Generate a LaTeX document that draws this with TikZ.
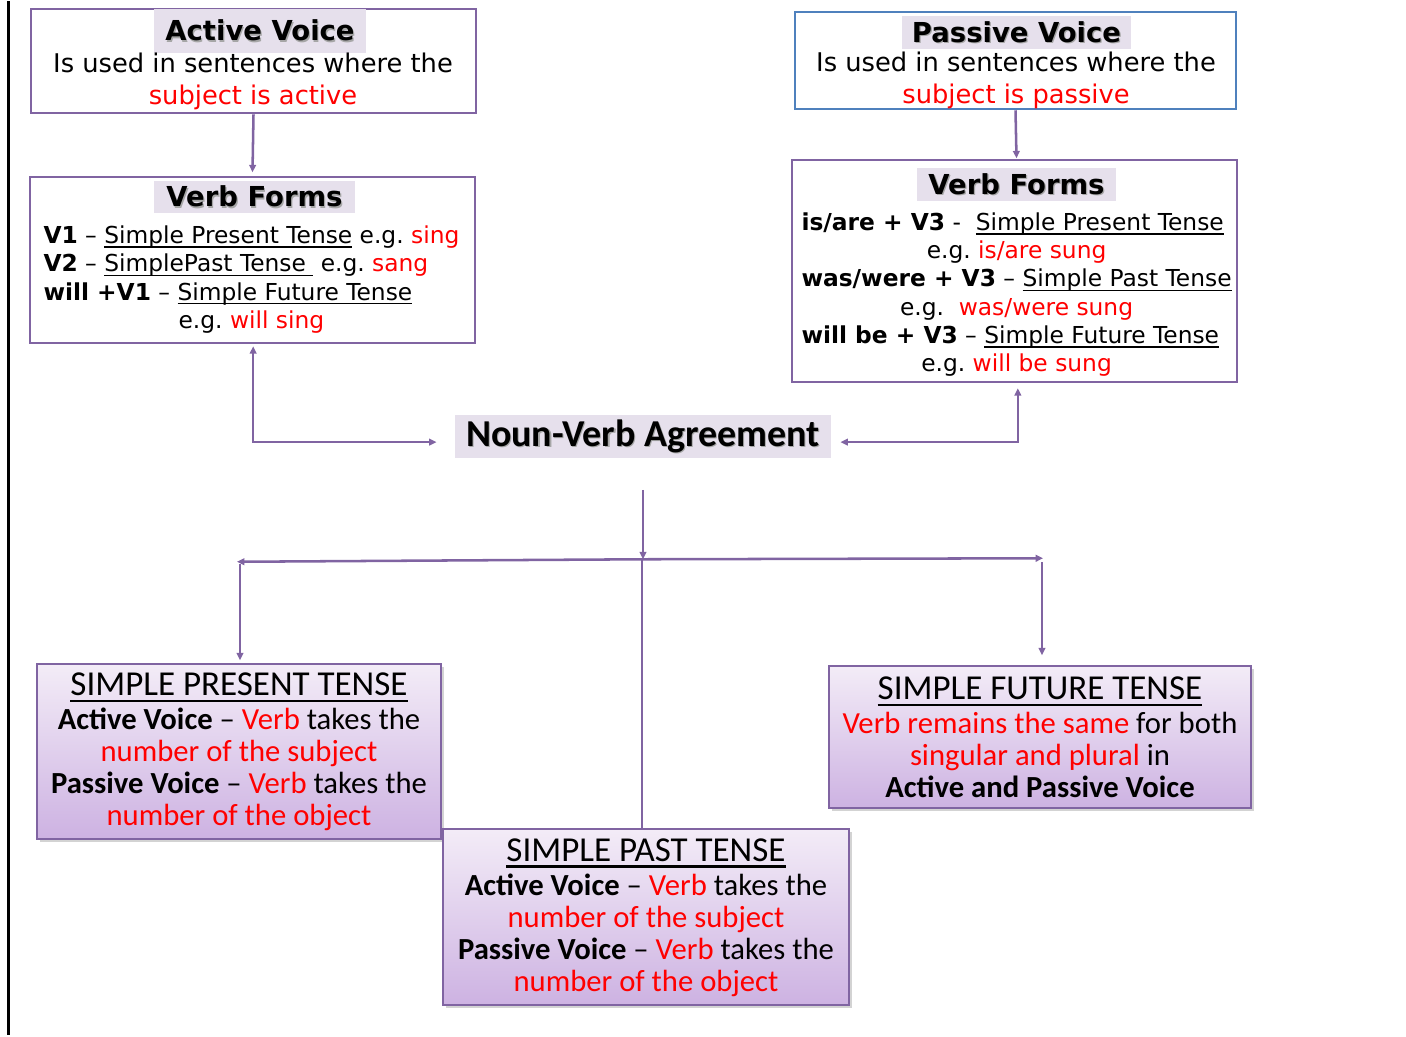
\documentclass[tikz,border=0pt]{standalone}
\usepackage{fontspec}
\setmainfont{DejaVu Sans}
\newfontfamily\carlito{Carlito}
\usetikzlibrary{arrows.meta,shadows}
\frenchspacing

\definecolor{linepurple}{HTML}{8064A2}
\definecolor{boxblue}{HTML}{4F81BD}
\definecolor{titlelilac}{HTML}{E6E0EC}
\definecolor{gradtop}{HTML}{F3ECF7}
\definecolor{gradbot}{HTML}{CDB2E2}
\definecolor{txtred}{HTML}{FF0000}

\newsavebox{\ulbox}
\newcommand{\rd}[1]{\textcolor{txtred}{#1}}
\newcommand{\shad}[1]{\leavevmode\rlap{\hspace{0.9pt}\raisebox{-0.9pt}{\textcolor{black!35}{#1}}}#1}
\newcommand{\ulin}[1]{\sbox{\ulbox}{#1}\rlap{\rule[-0.19em]{\wd\ulbox}{0.07em}}\usebox{\ulbox}}

\tikzset{every picture/.style={line width=0.75pt}}
\tikzset{
  boxsize/.style 2 args={minimum width=#1*0.75pt, minimum height=#2*0.75pt},
  outline/.style={draw=linepurple, line width=1.5pt, inner sep=0pt},
  titlebar/.style={fill=titlelilac, inner sep=0pt, font=\bfseries\fontsize{20.6}{24}\selectfont},
  bodytext/.style={inner sep=0pt, align=center, font=\fontsize{19.3}{24}\selectfont},
  formtext/.style={inner sep=0pt, font=\fontsize{17.5}{21.2}\selectfont},
  tensebox/.style={draw=linepurple, line width=1.5pt, top color=gradtop, bottom color=gradbot,
    inner sep=0pt, align=center, font=\carlito\fontsize{23}{24}\selectfont,
    drop shadow={shadow xshift=2pt, shadow yshift=-2pt, opacity=0.35}},
  conn/.style={draw=linepurple, line width=1.9pt},
  >={Triangle[length=5.5pt,width=5pt]}
}
\newcommand{\tensetitle}[1]{{\fontsize{26.25}{28}\selectfont\ulin{#1}}}

\begin{document}
\begin{tikzpicture}[x=0.75pt,y=0.75pt,yscale=-1,xscale=1]
\path (0,0) rectangle (1406,1034); %set diagram size

%Straight Lines: page edge
\draw [line width=1.9pt] (8.5,0) -- (8.5,1034) ;

%Shape: Rectangle: active voice
\node (av) [outline, boxsize={445}{104}] at (253.5,60) {};
\node (avTitle) [titlebar, boxsize={212}{44}] at (260,30) {\shad{Active Voice}};
\node (avText) [bodytext] at (253,80) {Is used in sentences where the\\ \rd{subject is active}};

%Shape: Rectangle: passive voice
\node (pv) [outline, draw=boxblue, boxsize={441}{97}] at (1015.5,59.5) {};
\node (pvTitle) [titlebar, boxsize={229}{33}] at (1016.5,31.5) {\shad{Passive Voice}};
\node (pvText) [bodytext] at (1016,79) {Is used in sentences where the\\ \rd{subject is passive}};

%Shape: Rectangle: verb forms left
\node (vfl) [outline, boxsize={445}{166}] at (252.5,259) {};
\node (vflTitle) [titlebar, boxsize={201}{32}] at (254.5,196) {\shad{Verb Forms}};
\node (vflText) [formtext, anchor=west] at (43,279) {\begin{tabular}{@{}l@{}}
\textbf{V1} – \ulin{Simple Present Tense} e.g. \rd{sing}\\
\textbf{V2} – \ulin{SimplePast Tense\ } e.g. \rd{sang}\\
\textbf{will +V1} – \ulin{Simple Future Tense}\\
\multicolumn{1}{@{}c@{}}{e.g. \rd{will sing}}
\end{tabular}};

%Shape: Rectangle: verb forms right
\node (vfr) [outline, boxsize={445}{222}] at (1014.5,270) {};
\node (vfrTitle) [titlebar, boxsize={199}{33}] at (1016.5,183.5) {\shad{Verb Forms}};
\node (vfrText) [formtext, anchor=west] at (801,294) {\begin{tabular}{@{}l@{}}
\textbf{is/are + V3} -\ \ \ulin{Simple Present Tense}\\
\multicolumn{1}{@{}c@{}}{e.g. \rd{is/are sung}}\\
\textbf{was/were + V3} – \ulin{Simple Past Tense}\\
\multicolumn{1}{@{}c@{}}{e.g.\ \ \rd{was/were sung}}\\
\textbf{will be + V3} – \ulin{Simple Future Tense}\\
\multicolumn{1}{@{}c@{}}{e.g. \rd{will be sung}}
\end{tabular}};

% Text Node
\node (nva) [fill=titlelilac, inner sep=0pt, boxsize={376}{43}, font=\carlito\bfseries\fontsize{28.5}{30}\selectfont] at (643,435.5) {\shad{Noun-Verb Agreement}};

%Shape: Rectangle: tenses
\node (sp) [tensebox, boxsize={404}{175}] at (239,750.5) {\rule{0pt}{3pt}\tensetitle{SIMPLE PRESENT TENSE}\\[1.5pt]
\textbf{Active Voice} – \rd{Verb} takes the\\ \rd{number of the subject}\\
\textbf{Passive Voice} – \rd{Verb} takes the\\ \rd{number of the object}};
\node (sf) [tensebox, boxsize={422}{142}] at (1040,736) {\tensetitle{SIMPLE FUTURE TENSE}\\[1.5pt]
\rd{Verb remains the same} for both\\ \rd{singular and plural} in\\
\textbf{Active and Passive Voice}};
\node (spa) [tensebox, boxsize={406}{176}] at (646,916) {\tensetitle{SIMPLE PAST TENSE}\\[1.5pt]
\textbf{Active Voice} – \rd{Verb} takes the\\ \rd{number of the subject}\\
\textbf{Passive Voice} – \rd{Verb} takes the\\ \rd{number of the object}};

%Straight Lines
\draw [conn, ->] (av.south) -- ([yshift=-3pt]vfl.north) ;
\draw [conn, ->] (pv.south) -- ([xshift=0.75pt,yshift=-0.75pt]pv.south |- vfr.north) ;
\draw [conn, <->, shorten <=1.5pt] ([xshift=0.5pt]vfl.south) |- ([xshift=-13.5pt,yshift=4pt]nva.west) ;
\draw [conn, <->, shorten <=3.75pt] ([xshift=2.5pt]vfr.south) |- ([xshift=6.75pt,yshift=4pt]nva.east) ;

\coordinate (split) at (643,558) ;
\coordinate (lend) at (237,560.5) ;
\coordinate (rend) at (1043,557) ;
\draw [conn, ->] ([yshift=23.25pt]nva.south) -- (split) ;
\draw [conn, ->] (split) -- (lend) ;
\draw [conn, ->] (split) -- (rend) ;
\draw [conn] ([xshift=-0.75pt]split) -- ([xshift=-0.75pt]split |- spa.north) ;
\draw [conn, ->] ([xshift=2.25pt,yshift=2pt]lend) -- ([xshift=0.75pt,yshift=-2.25pt]sp.north) ;
\draw [conn, ->] ([xshift=-0.75pt,yshift=3pt]rend) -- ([xshift=1.5pt,yshift=-7.5pt]sf.north) ;

\end{tikzpicture}
\end{document}
